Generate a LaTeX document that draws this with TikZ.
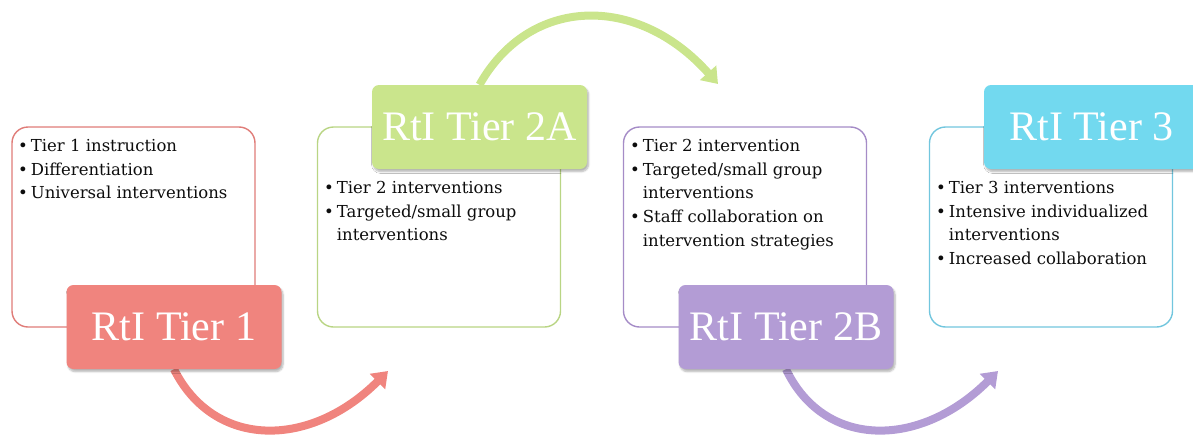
\documentclass[tikz,border=0pt]{standalone}
\usepackage{fontspec}
\setmainfont{Liberation Serif}
\newfontfamily\bodyfont{DejaVu Serif}
\usetikzlibrary{arrows.meta,shadows.blur}
\definecolor{c1}{HTML}{F0847E}
\definecolor{c1b}{HTML}{E07C78}
\definecolor{c2}{HTML}{CAE58C}
\definecolor{c2b}{HTML}{B9D584}
\definecolor{c3}{HTML}{B39CD5}
\definecolor{c3b}{HTML}{A58CC7}
\definecolor{c4}{HTML}{72D9EF}
\definecolor{c4b}{HTML}{72C6DE}
\definecolor{textdark}{HTML}{0D0D0D}
\pgfdeclarelayer{bg}
\pgfsetlayers{bg,main}
\tikzset{
  wbox/.style={draw=#1, line width=1.4pt, rounded corners=16pt, fill=white,
    minimum width=243pt, minimum height=200pt, inner sep=0pt},
  tbox/.style={fill=#1, rounded corners=7pt, minimum width=215pt, minimum height=84pt,
    inner sep=0pt, text=white, font=\fontsize{42}{48}\selectfont,
    blur shadow={shadow xshift=1.5pt, shadow yshift=-2.5pt, shadow blur steps=6, shadow opacity=30}},
  body/.style={anchor=north west, inner sep=0pt, text=textdark,
    font=\bodyfont\fontsize{16.5}{23.6}\selectfont, align=left},
  flow/.style={draw=#1, line width=8pt, -{Triangle[width=21pt,length=15pt]}}
}
\newcommand{\blist}[1]{\begin{tabular}{@{}l@{\hspace{3pt}}l@{}}#1\end{tabular}}
\begin{document}
\begin{tikzpicture}[x=1pt,y=-1pt]
\useasboundingbox (0,0) rectangle (1193,439);
% white content boxes
\node[wbox=c1b] (box1) at (133.5,227) {};
\node[wbox=c2b] (box2) at (439,227) {};
\node[wbox=c3b] (box3) at (745,227) {};
\node[wbox=c4b] (box4) at (1051,227) {};
% body texts
\node[body] (txt1) at (18,135) {\blist{\textbullet & Tier 1 instruction\\ \textbullet & Differentiation\\ \textbullet & Universal interventions}};
\node[body] (txt2) at (324,177) {\blist{\textbullet & Tier 2 interventions\\ \textbullet & Targeted/small group\\ & interventions}};
\node[body] (txt3) at (630,135) {\blist{\textbullet & Tier 2 intervention\\ \textbullet & Targeted/small group\\ & interventions\\ \textbullet & Staff collaboration on\\ & intervention strategies}};
\node[body] (txt4) at (936,177) {\blist{\textbullet & Tier 3 interventions\\ \textbullet & Intensive individualized\\ & interventions\\ \textbullet & Increased collaboration}};
% title boxes
\node[tbox=c1] (t1) at (174,327) {RtI Tier 1};
\node[tbox=c2] (t2a) at (479.5,127) {RtI Tier 2A};
\node[tbox=c3] (t2b) at (786,327) {RtI Tier 2B};
\node[tbox=c4] (t3) at (1091.5,127) {RtI Tier 3};
% arrow end points
\coordinate (e1) at (388,371);
\coordinate (e2) at (718,84);
\coordinate (e3) at (998,371);
\begin{pgfonlayer}{bg}
\draw[flow=c1] (t1.south) .. controls (214,449) and (310,449) .. (e1);
\draw[flow=c2] (t2a.north) .. controls (529.5,-4) and (637,-7) .. (e2);
\draw[flow=c3] (t2b.south) .. controls (824,449) and (920,449) .. (e3);
\end{pgfonlayer}
\end{tikzpicture}
\end{document}
